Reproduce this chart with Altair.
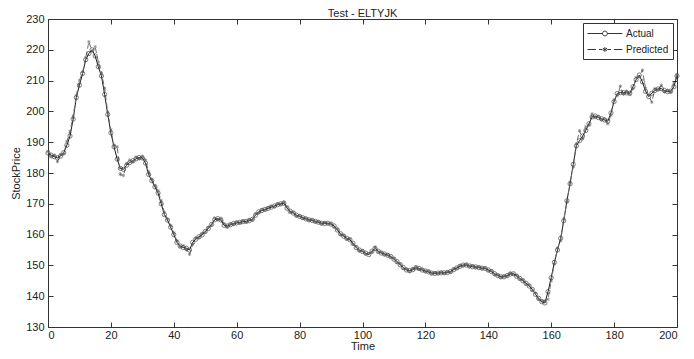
import altair as alt
import pandas as pd

time = list(range(201))

actual = [
    186.5, 185.8, 185.3, 184.9, 185.5, 186.6, 189.0, 192.0, 197.5, 204.5,
    208.5, 212.3, 216.8, 218.8, 220.0, 218.0, 214.5, 211.5, 205.5, 199.0,
    193.0, 188.5, 184.5, 181.5, 181.2, 182.5, 183.4, 184.0, 184.6, 185.0,
    184.9, 183.2, 179.5, 177.5, 175.5, 173.5, 170.0, 166.5, 164.7, 162.4,
    160.0, 157.5, 156.3, 155.8, 155.6, 155.0, 157.5, 158.5, 159.3, 159.9,
    161.0, 162.0, 163.3, 164.8, 165.2, 164.7, 163.0, 162.8, 163.2, 163.6,
    163.8, 164.0, 164.2, 164.3, 164.5, 165.0, 166.3, 167.4, 167.8, 168.2,
    168.5, 168.9, 169.3, 169.7, 170.0, 170.2, 168.6, 167.6, 167.0, 166.3,
    165.9, 165.5, 165.1, 164.8, 164.6, 164.3, 164.0, 163.7, 163.6, 163.7,
    163.4, 162.8, 161.5, 160.3, 159.5, 158.8, 158.3, 157.2, 155.8, 155.0,
    154.5, 154.0, 153.5, 154.6, 155.5, 154.6, 154.0, 153.7, 153.3, 152.9,
    152.0, 151.2, 150.2, 149.3, 148.5, 148.3, 148.6, 149.2, 149.0, 148.5,
    148.2, 147.9, 147.5, 147.4, 147.5, 147.6, 147.6, 147.7, 148.0, 148.6,
    149.2, 149.7, 150.1, 150.1, 149.8, 149.6, 149.5, 149.3, 149.1, 149.0,
    148.5, 148.0, 147.3, 146.7, 146.3, 146.3, 146.7, 147.2, 147.3, 146.5,
    145.8, 145.0, 144.2, 143.3, 142.2, 140.6, 139.3, 138.2, 137.8, 141.5,
    146.0, 151.0, 155.0, 158.8, 164.5, 171.0, 176.5, 182.8, 188.8, 190.5,
    192.0, 193.8, 196.0, 198.2, 198.5, 198.0, 197.6, 197.2, 196.8, 199.5,
    203.2, 205.8, 206.1, 206.1, 206.0, 205.9, 208.0, 210.3, 211.8, 209.6,
    206.5, 204.8, 205.9, 206.8, 207.3, 207.4, 206.8, 206.4, 206.6, 208.0,
    211.5,
]

predicted = [
    186.9, 185.2, 185.8, 183.7, 186.0, 186.2, 190.2, 193.5, 198.5, 205.2,
    210.0, 212.8, 217.5, 222.6, 219.5, 221.0, 216.0, 212.5, 207.5, 199.8,
    194.0, 189.0, 188.5, 179.5, 179.2, 183.0, 184.2, 183.6, 185.2, 184.6,
    185.4, 184.2, 180.5, 178.0, 176.0, 174.2, 171.0, 167.2, 165.0, 163.0,
    160.6, 158.0, 156.0, 156.4, 155.0, 153.6, 156.8, 158.9, 159.0, 160.4,
    160.8, 162.4, 163.0, 165.4, 164.8, 165.3, 163.5, 162.4, 163.5, 163.3,
    164.1, 163.7, 164.5, 164.0, 164.9, 164.7, 166.8, 167.0, 168.2, 168.0,
    168.8, 169.2, 169.0, 170.0, 169.8, 170.6, 169.0, 167.3, 167.2, 166.0,
    166.1, 165.3, 165.3, 164.6, 164.8, 164.1, 164.2, 163.5, 163.9, 163.5,
    163.6, 162.4, 161.8, 160.0, 159.8, 158.5, 158.6, 156.8, 156.1, 154.7,
    154.8, 153.7, 153.8, 154.3, 156.0, 154.3, 154.2, 153.5, 153.5, 152.6,
    152.3, 150.9, 150.5, 149.0, 148.8, 148.0, 148.9, 149.6, 148.7, 148.7,
    148.0, 148.1, 147.3, 147.6, 147.3, 147.8, 147.4, 147.9, 147.8, 148.9,
    149.0, 150.0, 149.9, 150.4, 149.6, 149.9, 149.3, 149.5, 148.9, 149.2,
    148.3, 148.2, 147.0, 146.9, 146.1, 146.5, 146.5, 147.5, 147.1, 146.8,
    145.5, 145.3, 143.9, 143.6, 141.9, 141.0, 139.0, 138.5, 138.5, 139.0,
    145.0, 150.5, 155.6, 158.0, 165.0, 170.5, 177.0, 182.0, 189.5, 193.7,
    191.0, 195.0, 195.5, 199.2, 198.0, 198.4, 197.2, 197.6, 196.0, 198.8,
    203.8, 205.2, 208.2, 205.6, 206.6, 205.5, 207.4, 211.0, 211.2, 213.4,
    207.5, 205.2, 203.0, 207.4, 207.0, 208.5, 206.3, 206.9, 206.2, 209.0,
    212.0,
]

series_names = ["Actual", "Predicted"]
x_ticks = [0, 20, 40, 60, 80, 100, 120, 140, 160, 180, 200]
y_ticks = [130, 140, 150, 160, 170, 180, 190, 200, 210, 220, 230]

df = pd.DataFrame({
    "Time": time + time,
    "StockPrice": actual + predicted,
    "Series": [series_names[0]] * len(time) + [series_names[1]] * len(time),
})

FONT = "Liberation Sans"
AX = "#333333"
TXT = "#222222"
INWARD = {"expr": "-5"}

ASTERISK = "M0,-1V1M-0.87,-0.5L0.87,0.5M-0.87,0.5L0.87,-0.5"
# legend symbols: wide, flat paths (line + marker), drawn to the right of the entry origin
LEG_ACTUAL = ("M-1,0H1.5M2.3,0H4.8"
              "M2.3,0A0.4,0.4 0 1,1 1.5,0A0.4,0.4 0 1,1 2.3,0")
LEG_PRED = ("M-1,0H0.4M0.9,0H1.5M2.3,0H2.9M3.4,0H4.8"
            "M1.9,-0.4V0.4M1.55,-0.2L2.25,0.2M1.55,0.2L2.25,-0.2")

xscale = alt.Scale(domain=[0, 200], nice=False, zero=False)
yscale = alt.Scale(domain=[130, 230], nice=False, zero=False)

base = alt.Chart(df)

x_main = alt.X("Time:Q", scale=xscale, axis=alt.Axis(
    orient="bottom", values=x_ticks, title="Time", grid=False,
    tickSize=INWARD, labelPadding=7, tickColor=AX, domainColor=AX,
    labelColor=TXT, titleColor=TXT, labelFontSize=11, titleFontSize=11,
    titleFontWeight="normal", titlePadding=0, labelFont=FONT, titleFont=FONT))
y_main = alt.Y("StockPrice:Q", scale=yscale, axis=alt.Axis(
    orient="left", values=y_ticks, title="StockPrice", grid=False,
    tickSize=INWARD, labelPadding=9, tickColor=AX, domainColor=AX,
    labelColor=TXT, titleColor=TXT, labelFontSize=11, titleFontSize=11,
    titleFontWeight="normal", titlePadding=4, labelFont=FONT, titleFont=FONT))

x_top = alt.X("Time:Q", scale=xscale, axis=alt.Axis(
    orient="top", values=x_ticks, title=None, labels=False, grid=False,
    tickSize=INWARD, tickColor=AX, domainColor=AX))
y_right = alt.Y("StockPrice:Q", scale=yscale, axis=alt.Axis(
    orient="right", values=y_ticks, title=None, labels=False, grid=False,
    tickSize=INWARD, tickColor=AX, domainColor=AX))

x_none = alt.X("Time:Q", scale=xscale, axis=None)
y_none = alt.Y("StockPrice:Q", scale=yscale, axis=None)

actual_line = base.transform_filter(alt.datum.Series == "Actual").mark_line(
    color="#1a1a1a", strokeWidth=1).encode(x=x_main, y=y_main)

pred_line = base.transform_filter(alt.datum.Series == "Predicted").mark_line(
    color="#707070", strokeWidth=1, strokeDash=[5, 3]).encode(x=x_top, y=y_right)

actual_pts = base.transform_filter(alt.datum.Series == "Actual").mark_point(
    shape="circle", size=18, filled=False, color="#333333", strokeWidth=0.9
).encode(x=x_none, y=y_none)

pred_pts = base.transform_filter(alt.datum.Series == "Predicted").mark_point(
    shape=ASTERISK, size=12, filled=False, color="#606060", strokeWidth=0.9
).encode(x=x_none, y=y_none)

legend_layer = base.mark_point(opacity=0, filled=False, color="#333333").encode(
    x=x_none, y=y_none,
    shape=alt.Shape("Series:N", scale=alt.Scale(domain=series_names,
                                                 range=[LEG_ACTUAL, LEG_PRED]),
                    legend=alt.Legend(
                        title=None, orient="top-right", offset=4, padding=4,
                        strokeColor=AX, fillColor="white", cornerRadius=0,
                        symbolSize=144, symbolOpacity=1, symbolStrokeWidth=1,
                        symbolStrokeColor="#333333", symbolFillColor="transparent",
                        labelFont=FONT, labelFontSize=10, labelColor=TXT,
                        labelOffset=26, rowPadding=4)),
)

chart = alt.layer(actual_line, pred_line, actual_pts, pred_pts, legend_layer).resolve_axis(
    x="independent", y="independent"
).properties(
    width=629, height=308,
    title=alt.TitleParams("Test - ELTYJK", font=FONT, fontSize=11,
                          fontWeight="normal", color=TXT, offset=-6, anchor="middle"),
    autosize=alt.AutoSizeParams(type="none"),
    padding={"left": 40, "top": 11, "right": 9, "bottom": 24},
).configure_view(stroke=None).configure(background="white")

chart.save("out.html", embed_options={"renderer": "svg", "actions": False})
